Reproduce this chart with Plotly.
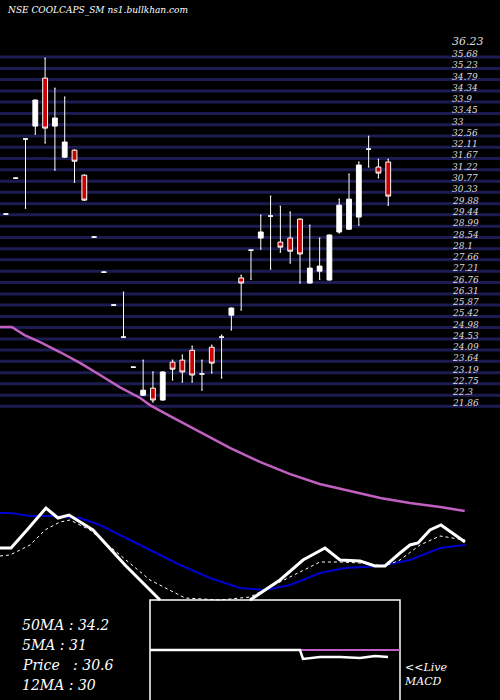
import plotly.graph_objects as go

# price levels drawn as horizontal bands, labelled on the right
levels = [35.68, 35.23, 34.79, 34.34, 33.9, 33.45, 33, 32.56, 32.11, 31.67, 31.22,
          30.77, 30.33, 29.88, 29.44, 28.99, 28.54, 28.1, 27.66, 27.21, 26.76, 26.31,
          25.87, 25.42, 24.98, 24.53, 24.09, 23.64, 23.19, 22.75, 22.3, 21.86]
top_label = 36.23

# daily candles
opens = [29.47, 30.89, 32.44, 32.95, 34.85, 32.95, 31.72, 32.00, 31.01, 28.56,
         27.17, 25.87, 24.60, 23.41, 22.30, 22.58, 22.11, 23.61, 23.69, 24.08,
         23.14, 24.20, 24.60, 25.47, 26.94, 28.04, 28.52, 29.39, 28.36, 28.52,
         29.27, 26.74, 27.21, 26.86, 28.76, 28.87, 29.35, 32.04, 31.33, 31.53]
highs = [29.47, 30.89, 32.44, 33.98, 35.64, 34.45, 34.10, 32.00, 31.01, 28.56,
         27.17, 25.87, 26.38, 23.41, 23.69, 23.22, 23.22, 23.69, 23.89, 24.24,
         23.69, 24.28, 24.68, 25.75, 27.05, 28.04, 29.43, 30.18, 29.78, 29.55,
         29.27, 29.03, 28.52, 28.64, 30.06, 31.05, 31.53, 32.55, 31.64, 31.64]
lows = [29.47, 30.89, 29.70, 32.63, 32.28, 31.21, 31.72, 30.73, 30.02, 28.56,
        27.17, 25.87, 24.60, 23.41, 22.30, 22.03, 22.11, 22.90, 22.82, 22.82,
        22.50, 23.18, 22.98, 24.88, 25.67, 26.89, 28.08, 27.29, 27.96, 27.53,
        26.74, 26.74, 26.89, 26.86, 28.72, 28.87, 29.03, 31.33, 30.90, 29.82]
closes = [29.47, 30.89, 32.44, 33.98, 32.87, 33.27, 32.32, 31.56, 30.02, 28.56,
          27.17, 25.87, 24.60, 23.41, 22.50, 22.11, 23.22, 23.33, 23.22, 23.10,
          23.14, 23.57, 24.60, 25.75, 26.74, 28.04, 28.76, 29.39, 28.16, 28.00,
          27.89, 27.33, 27.41, 28.64, 29.82, 30.06, 31.41, 32.04, 31.09, 30.18]

# 50 day moving average (bar index, price)
ma50_x = [-0.6, 0.6, 1.9, 3.5, 5.5, 7.6, 9.6, 11.6, 13.7, 14.7, 16.7, 19.8, 22.9,
          25.9, 29.0, 32.0, 35.1, 38.2, 41.2, 44.3, 46.8]
ma50_y = [25.00, 25.00, 24.68, 24.40, 24.01, 23.57, 23.10, 22.62, 22.19, 21.91,
          21.48, 20.84, 20.21, 19.66, 19.18, 18.79, 18.51, 18.23, 18.04, 17.88, 17.72]

# MACD panel (position, level); None = hidden behind the inset box
macd_x = [0, 11, 27, 46, 58, 69, 93, 125, 160, None, 250, 280, 303, 325, 340, 360,
          375, 385, 400, 410, 418, 430, 441, 465]
macd_y = [548, 548, 530, 508, 518, 515, 530, 565, 600, None, 600, 580, 560, 548, 560,
          561, 566, 566, 553, 545, 543, 530, 525, 542]
sig_x = [0, 10, 30, 45, 60, 70, 90, 120, 150, 185, 220, 250, 280, 320, 340, 360, 385,
         400, 420, 440, 465]
sig_y = [556, 555, 545, 530, 522, 520, 530, 555, 580, 598, 600, 597, 582, 562, 562,
         563, 566, 560, 545, 536, 540]
slow_x = [0, 10, 30, 50, 80, 100, 120, 150, 180, 210, 240, 265, 290, 320, 345, 380,
          410, 440, 465]
slow_y = [513, 513, 516, 516, 518, 525, 535, 550, 565, 578, 588, 590, 585, 573, 568,
          566, 560, 548, 545]
hist_x = [150, 300, 303, 320, 340, 360, 375, 388]
hist_y = [650, 650, 659, 657, 657, 658, 656, 657]

idx = list(range(len(opens)))
FONT = "DejaVu Serif"

fig = go.Figure()
for lv in levels:
    fig.add_hline(y=lv, line=dict(color="#1c1c52", width=3), layer="below")
fig.add_shape(type="rect", xref="x2", yref="y2", x0=150, x1=400, y0=600, y1=705,
              fillcolor="black", line=dict(color="white", width=1.5), layer="below")
fig.add_shape(type="line", xref="x2", yref="y2", x0=300, x1=400, y0=650, y1=650,
              line=dict(color="#c060c0", width=2), layer="below")

fig.add_trace(go.Candlestick(
    x=idx, open=opens, high=highs, low=lows, close=closes,
    increasing=dict(fillcolor="white", line=dict(color="white", width=1)),
    decreasing=dict(fillcolor="#cc0000", line=dict(color="white", width=1)),
    whiskerwidth=0.3))
fig.add_trace(go.Scatter(x=ma50_x, y=ma50_y, mode="lines",
                         line=dict(color="#c060c0", width=2.5)))

# lower panel on its own axes
fig.add_trace(go.Scatter(x=slow_x, y=slow_y, mode="lines", xaxis="x2", yaxis="y2",
                         line=dict(color="#0000cc", width=2)))
fig.add_trace(go.Scatter(x=sig_x, y=sig_y, mode="lines", xaxis="x2", yaxis="y2",
                         line=dict(color="white", width=1, dash="dot")))
fig.add_trace(go.Scatter(x=macd_x, y=macd_y, mode="lines", xaxis="x2", yaxis="y2",
                         line=dict(color="white", width=3)))
fig.add_trace(go.Scatter(x=hist_x, y=hist_y, mode="lines", xaxis="x2", yaxis="y2",
                         line=dict(color="white", width=2.5)))

for lv in levels:
    fig.add_annotation(x=450, xref="x2", y=lv, yref="y", text=f"<i>{lv:g}</i>",
                       showarrow=False, xanchor="left", yanchor="bottom", yshift=-4,
                       font=dict(family=FONT, size=9, color="#dddddd"))
fig.add_annotation(x=450, xref="x2", y=top_label, yref="y", text=f"<i>{top_label:g}</i>",
                   showarrow=False, xanchor="left", yanchor="middle", yshift=2,
                   font=dict(family=FONT, size=11, color="#dddddd"))

fig.add_annotation(x=5, xref="x2", y=10, yref="y2", text="<i>NSE COOLCAPS_SM ns1.bullkhan.com</i>",
                   showarrow=False, xanchor="left", font=dict(family=FONT, size=9, color="white"))
for i, t in enumerate(["50MA : 34.2", "5MA : 31", "Price   : 30.6", "12MA : 30"]):
    fig.add_annotation(x=20, xref="x2", y=625 + 20 * i, yref="y2", text=f"<i>{t}</i>",
                       showarrow=False, xanchor="left",
                       font=dict(family=FONT, size=14, color="white"))
fig.add_annotation(x=402, xref="x2", y=674, yref="y2", text="<i>&lt;&lt;Live<br>MACD</i>",
                   showarrow=False, xanchor="left", align="left",
                   font=dict(family=FONT, size=11, color="white"))

fig.update_layout(
    width=500, height=700, margin=dict(l=0, r=0, t=0, b=0),
    paper_bgcolor="black", plot_bgcolor="black", showlegend=False,
    xaxis=dict(range=[-0.6, 50.4], visible=False, rangeslider=dict(visible=False)),
    yaxis=dict(range=[10.24, 37.94], visible=False),
    xaxis2=dict(range=[0, 500], overlaying="x", visible=False),
    yaxis2=dict(range=[700, 0], overlaying="y", visible=False),
)
fig.write_html("out.html", config={"displayModeBar": False},
               post_script="document.body.style.margin='0';document.body.style.background='black';")
